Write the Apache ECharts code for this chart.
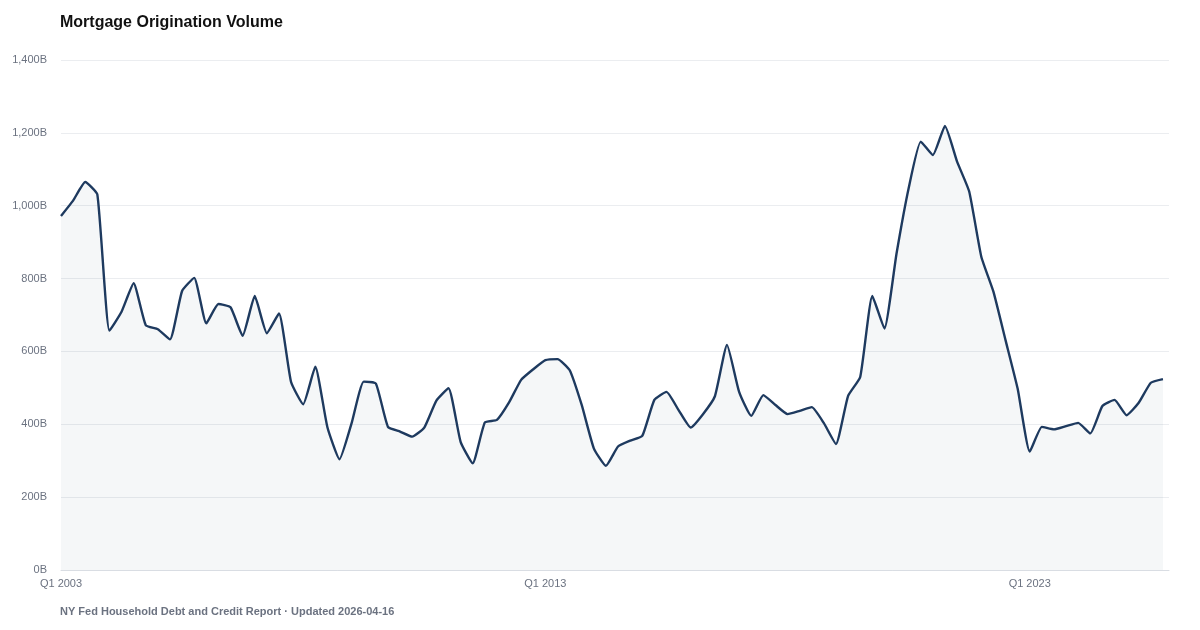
<!DOCTYPE html>
<html>
<head>
<meta charset="utf-8">
<script src="https://cdn.jsdelivr.net/npm/echarts@6/dist/echarts.min.js"></script>
<style>
html,body{margin:0;padding:0;background:#fff;}
#c{width:1200px;height:630px;}
</style>
</head>
<body>
<div id="c"></div>
<script>
const startYear = 2003;
const tickLabels = ['Q1 2003', 'Q1 2013', 'Q1 2023'];
const yTicks = [0, 200, 400, 600, 800, 1000, 1200, 1400];
// Quarterly origination volume (billions), Q1 2003 .. Q4 2025
const volume = [
  972, 1014, 1065, 1031, 657, 709, 787, 672, 661, 633,
  766, 802, 677, 730, 721, 643, 752, 650, 704, 516,
  455, 558, 392, 304, 403, 517, 512, 393, 380, 366,
  391, 465, 499, 352, 293, 405, 412, 460, 522, 551,
  576, 579, 549, 453, 334, 286, 339, 355, 368, 467,
  489, 439, 391, 427, 477, 618, 489, 423, 480, 453,
  428, 437, 447, 403, 346, 478, 530, 752, 663, 869,
  1048, 1176, 1139, 1219, 1121, 1039, 860, 764, 631, 498,
  325, 393, 386, 395, 404, 375, 450, 467, 425, 459,
  514, 524
];
const quarters = volume.map((_, i) => 'Q' + (i % 4 + 1) + ' ' + (startYear + Math.floor(i / 4)));
const points = volume.map((v, i) => [i, v]);

const chart = echarts.init(document.getElementById('c'), null, {renderer: 'canvas'});
const font = '"Liberation Sans", Arial, Helvetica, sans-serif';
chart.setOption({
  animation: false,
  backgroundColor: '#ffffff',
  textStyle: {fontFamily: font},
  title: [{
    text: 'Mortgage Origination Volume',
    left: 55, top: 10,
    textStyle: {fontFamily: font, fontSize: 16, fontWeight: 'bold', color: '#111111'}
  }, {
    text: 'NY Fed Household Debt and Credit Report · Updated 2026-04-16',
    left: 55, top: 601,
    textStyle: {fontFamily: font, fontSize: 11, fontWeight: 'bold', color: '#6b7280'}
  }],
  grid: {left: 61, right: 31, top: 60, bottom: 60, containLabel: false},
  xAxis: {
    type: 'value',
    min: 0, max: 91.5, interval: 40,
    axisLine: {show: true, lineStyle: {color: '#d9dde3', width: 1}},
    axisTick: {show: false},
    splitLine: {show: false},
    axisLabel: {
      color: '#6b7280', fontSize: 11, fontFamily: font, margin: 8,
      showMaxLabel: false,
      formatter: v => (v % 40 === 0 ? quarters[v] : '')
    }
  },
  yAxis: {
    type: 'value',
    min: 0, max: 1400, interval: 200,
    axisLine: {show: false},
    axisTick: {show: false},
    splitLine: {lineStyle: {color: '#ebedf0', width: 1}},
    axisLabel: {
      color: '#6b7280', fontSize: 11, fontFamily: font, margin: 14,
      padding: [2, 0, 0, 0],
      formatter: v => v.toLocaleString('en-US') + 'B'
    }
  },
  series: [{
    type: 'line',
    data: points,
    showSymbol: false,
    smooth: 0.15,
    lineStyle: {color: '#1e3a5f', width: 2.4},
    itemStyle: {color: '#1e3a5f'},
    areaStyle: {color: 'rgba(30,58,95,0.06)'}
  }]
});
</script>
</body>
</html>
